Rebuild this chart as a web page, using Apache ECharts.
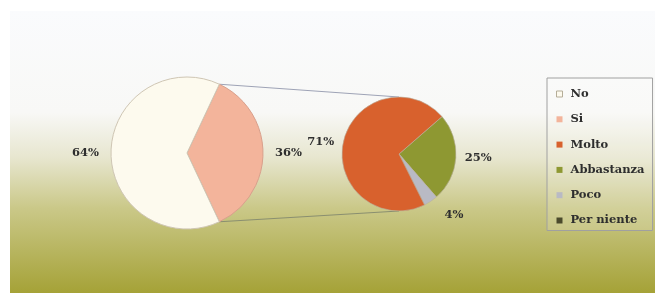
<!DOCTYPE html>
<html>
<head>
<meta charset="utf-8">
<script src="https://cdn.jsdelivr.net/npm/echarts@6/dist/echarts.min.js"></script>
<style>
  html, body { margin: 0; padding: 0; background: #fff; }
  #chart { width: 655px; height: 294px; }
</style>
</head>
<body>
<div id="chart"></div>
<script>
// main pie
const mainNames = ["Si", "No"];
const mainValues = [36, 64];
// breakdown of "Si"
const subNames = ["Abbastanza", "Poco", "Per niente", "Molto"];
const subValues = [25, 4, 0, 71];
const legendNames = ["No", "Si", "Molto", "Abbastanza", "Poco", "Per niente"];

const colors = {
  No: "#fdfaee",
  Si: "#f3b49b",
  Molto: "#d8612d",
  Abbastanza: "#8e9832",
  Poco: "#b9bac4",
  "Per niente": "#4b4a2c",
};

const c1 = [187, 153], r1 = 76;
const c2 = [399, 154], r2 = 57;

const chart = echarts.init(document.getElementById("chart"), null, {
  renderer: "canvas",
});

// connector lines from the edge of "Si" to the small pie
const siHalf = ((mainValues[0] / (mainValues[0] + mainValues[1])) * 360) / 2;
const rad = (siHalf * Math.PI) / 180;
const topStart = [c1[0] + r1 * Math.cos(rad), c1[1] - r1 * Math.sin(rad)];
const botStart = [c1[0] + r1 * Math.cos(rad), c1[1] + r1 * Math.sin(rad)];

const labelFont = {
  fontFamily: "DejaVu Serif",
  fontWeight: "bold",
  fontSize: 11.5,
  color: "#2e2e2e",
};

const option = {
  backgroundColor: "#ffffff",
  animation: false,
  color: legendNames.map((n) => colors[n]),
  graphic: [
    {
      type: "rect",
      z: -10,
      shape: { x: 10, y: 11, width: 645, height: 282 },
      style: {
        fill: new echarts.graphic.LinearGradient(0, 0, 0, 1, [
          { offset: 0, color: "#fafbfd" },
          { offset: 0.36, color: "#f8f8f6" },
          { offset: 0.52, color: "#e7e6cf" },
          { offset: 0.7, color: "#cac888" },
          { offset: 1, color: "#a5a237" },
        ]),
      },
    },
    {
      type: "line",
      z: 1,
      shape: { x1: topStart[0], y1: topStart[1], x2: c2[0], y2: c2[1] - r2 },
      style: { stroke: "#9ea3b6", lineWidth: 1 },
    },
    {
      type: "line",
      z: 1,
      shape: { x1: botStart[0], y1: botStart[1], x2: c2[0], y2: c2[1] + r2 },
      style: { stroke: "#8a8f70", lineWidth: 1 },
    },
  ],
  legend: {
    orient: "vertical",
    left: 547,
    top: 78,
    data: legendNames.map((n) =>
      n === "No"
        ? { name: n, itemStyle: { borderColor: "#b5ad98", borderWidth: 1 } }
        : n
    ),
    icon: "rect",
    itemWidth: 6,
    itemHeight: 6,
    itemGap: 13.3,
    padding: [10, 8, 4, 9],
    borderColor: "#a0a0a0",
    borderWidth: 1,
    backgroundColor: "rgba(255,255,255,0.15)",
    itemStyle: { borderWidth: 0 },
    textStyle: { ...labelFont, padding: [0, 0, 0, 3] },
  },
  series: [
    {
      type: "pie",
      center: c1,
      radius: r1,
      startAngle: siHalf,
      clockwise: true,
      data: mainNames.map((n, i) => ({
        name: n,
        value: mainValues[i],
        itemStyle: {
          color: colors[n],
          borderColor: n === "No" ? "#cfc6b4" : "#d9a08c",
          borderWidth: 1,
        },
      })),
      label: {
        position: "outside",
        formatter: "{d}%",
        ...labelFont,
      },
      labelLine: { show: false, length: 7, length2: 0 },
      emphasis: { disabled: true },
    },
    {
      type: "pie",
      center: c2,
      radius: r2,
      startAngle: 41,
      clockwise: true,
      data: subNames.map((n, i) => ({
        name: n,
        value: subValues[i],
        itemStyle: {
          color: colors[n],
          borderColor: "#b9b0a0",
          borderWidth: 0.6,
        },
        label: { show: subValues[i] > 0 },
        labelLine: { show: false, length: n === "Poco" ? 16 : 4, length2: 0 },
      })),
      label: {
        position: "outside",
        formatter: "{d}%",
        ...labelFont,
      },
      labelLine: { show: false, length: 4, length2: 0 },
      emphasis: { disabled: true },
    },
  ],
};

chart.setOption(option);
</script>
</body>
</html>
